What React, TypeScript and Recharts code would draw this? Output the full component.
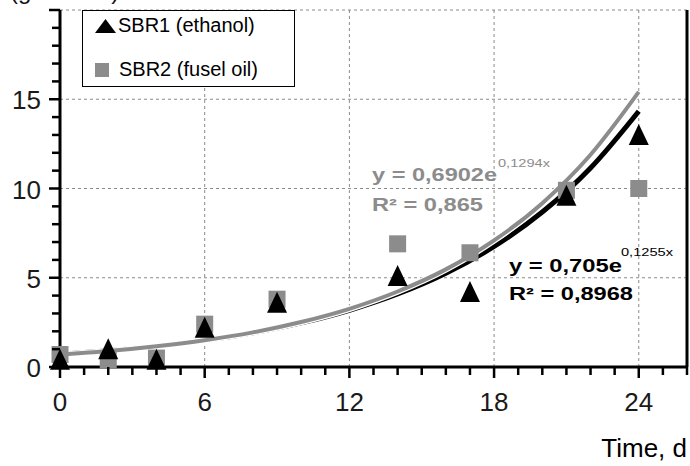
import React from 'react';
import {
  ComposedChart,
  Line,
  Scatter,
  XAxis,
  YAxis,
  ReferenceLine,
  Customized,
} from 'recharts';

// measured points, day vs concentration
const days = [0, 2, 4, 6, 9, 14, 17, 21, 24];
const sbr1 = [0.4, 1.0, 0.4, 2.2, 3.6, 5.1, 4.2, 9.6, 13.0];
const sbr2 = [0.7, 0.4, 0.5, 2.4, 3.8, 6.9, 6.4, 9.9, 10.0];

// exponential trend lines as drawn
const fitDays = [0, 2, 4, 6, 8, 10, 12, 14, 16, 18, 20, 22, 24];
const fit1 = [0.71, 0.91, 1.17, 1.5, 1.92, 2.47, 3.18, 4.09, 5.25, 6.75, 8.68, 11.15, 14.33];
const fit2 = [0.69, 0.89, 1.16, 1.5, 1.94, 2.52, 3.26, 4.23, 5.47, 7.09, 9.18, 11.89, 15.41];

const xTicks = [0, 1, 2, 3, 4, 5, 6, 7, 8, 9, 10, 11, 12, 13, 14, 15, 16, 17, 18, 19, 20, 21, 22, 23, 24, 25, 26];
const xLabels = [0, 6, 12, 18, 24];
const yTicks = [0, 1, 2, 3, 4, 5, 6, 7, 8, 9, 10, 11, 12, 13, 14, 15, 16, 17, 18, 19, 20];
const yLabels = [0, 5, 10, 15];
const xGrid = [6, 12, 18, 24];
const yGrid = [5, 10, 15, 20];

const GREY = '#8c8c8c';
const FONT = '"Liberation Sans", Arial, sans-serif';

const pts1 = days.map((d, i) => ({ x: d, y: sbr1[i] }));
const pts2 = days.map((d, i) => ({ x: d, y: sbr2[i] }));
const line1 = fitDays.map((d, i) => ({ x: d, y: fit1[i] }));
const line2 = fitDays.map((d, i) => ({ x: d, y: fit2[i] }));

const Triangle = (p: any) => (
  <polygon
    points={`${p.cx},${p.cy - 11} ${p.cx + 10},${p.cy + 10} ${p.cx - 10},${p.cy + 10}`}
    fill="#000"
  />
);

const Square = (p: any) => <rect x={p.cx - 8.5} y={p.cy - 8.5} width={17} height={17} fill={GREY} />;

// minor tick every unit, longer tick + label at the labelled values
const XTick = ({ x, y, payload }: any) => {
  const major = xLabels.includes(payload.value);
  return (
    <g>
      <path d={`M${x},${y}V${y + (major ? 11 : 8)}`} stroke="#000" strokeWidth={2.5} fill="none" />
      {major && (
        <text x={x} y={y + 44} textAnchor="middle" fontSize={26} fontFamily={FONT} fill="#1a1a1a">
          {payload.value}
        </text>
      )}
    </g>
  );
};

const YTick = ({ x, y, payload }: any) => {
  const major = yLabels.includes(payload.value) || payload.value === 20;
  return (
    <g>
      <path d={`M${x},${y}H${x - (major ? 11 : 8)}`} stroke="#000" strokeWidth={2.5} fill="none" />
      {yLabels.includes(payload.value) && (
        <text x={x - 19} y={y + 10} textAnchor="end" fontSize={26} fontFamily={FONT} fill="#1a1a1a">
          {payload.value}
        </text>
      )}
    </g>
  );
};

const Annotations = () => (
  <g fontFamily={FONT}>
    <text x={10} y={-1} fontSize={24} fill="#111">(g COD/L)</text>
    <text x={687} y={457} fontSize={26} textAnchor="end" fill="#000">Time, d</text>

    <text x={372} y={181} fontSize={18} fontWeight="bold" fill={GREY} textLength={125} lengthAdjust="spacingAndGlyphs">
      y = 0,6902e
    </text>
    <text x={498} y={167} fontSize={11} fill={GREY} textLength={52} lengthAdjust="spacingAndGlyphs">
      0,1294x
    </text>
    <text x={372} y={211} fontSize={18} fontWeight="bold" fill={GREY} textLength={111} lengthAdjust="spacingAndGlyphs">
      R² = 0,865
    </text>

    <text x={509} y={272} fontSize={18} fontWeight="bold" fill="#000" textLength={113} lengthAdjust="spacingAndGlyphs">
      y = 0,705e
    </text>
    <text x={621} y={256} fontSize={11} fill="#000" textLength={52} lengthAdjust="spacingAndGlyphs">
      0,1255x
    </text>
    <text x={509} y={300} fontSize={18} fontWeight="bold" fill="#000" textLength={124} lengthAdjust="spacingAndGlyphs">
      R² = 0,8968
    </text>
  </g>
);

export default function App() {
  return (
    <div style={{ position: 'absolute', left: 0, top: 0, width: 690, height: 466, background: '#fff' }}>
      <ComposedChart width={690} height={466} margin={{ top: 10, right: 3, left: 0, bottom: 59 }}>
        <XAxis
          type="number"
          dataKey="x"
          domain={[0, 26]}
          ticks={xTicks}
          interval={0}
          tick={<XTick />}
          tickLine={false}
          tickSize={0}
          tickMargin={0}
          height={40}
          axisLine={{ stroke: '#000', strokeWidth: 3 }}
        />
        <YAxis
          type="number"
          dataKey="y"
          domain={[0, 20]}
          ticks={yTicks}
          interval={0}
          tick={<YTick />}
          tickLine={false}
          tickSize={0}
          tickMargin={0}
          width={60}
          axisLine={{ stroke: '#000', strokeWidth: 3 }}
        />
        {xGrid.map((v) => (
          <ReferenceLine key={'gx' + v} x={v} stroke="#8a8a8a" strokeDasharray="3 3" strokeWidth={1} />
        ))}
        {yGrid.map((v) => (
          <ReferenceLine key={'gy' + v} y={v} stroke="#8a8a8a" strokeDasharray="3 3" strokeWidth={1} />
        ))}
        <ReferenceLine x={26} stroke="#000" strokeWidth={3} />
        <Scatter data={pts2} dataKey="y" shape={Square} isAnimationActive={false} />
        <Scatter data={pts1} dataKey="y" shape={Triangle} isAnimationActive={false} />
        <Line data={line1} dataKey="y" type="monotone" stroke="#000" strokeWidth={5} dot={false} isAnimationActive={false} />
        <Line data={line2} dataKey="y" type="monotone" stroke="#fff" strokeWidth={6.5} dot={false} isAnimationActive={false} />
        <Line data={line2} dataKey="y" type="monotone" stroke={GREY} strokeWidth={4} dot={false} isAnimationActive={false} />
        <Customized component={Annotations} />
      </ComposedChart>
      <div
        style={{
          position: 'absolute',
          left: 82,
          top: 10,
          width: 211,
          height: 75,
          border: '1px solid #000',
          background: '#fff',
          fontFamily: FONT,
          fontSize: 20,
          color: '#000',
        }}
      >
        <div style={{ position: 'absolute', left: 12, top: 3, display: 'flex', alignItems: 'center' }}>
          <svg width={21} height={14} style={{ marginRight: 2 }}>
            <polygon points="10.5,0 21,14 0,14" fill="#000" />
          </svg>
          <span>SBR1 (ethanol)</span>
        </div>
        <div style={{ position: 'absolute', left: 12, top: 47, display: 'flex', alignItems: 'center' }}>
          <span style={{ width: 14, height: 14, background: GREY, display: 'inline-block', marginRight: 10 }} />
          <span>SBR2 (fusel oil)</span>
        </div>
      </div>
    </div>
  );
}
